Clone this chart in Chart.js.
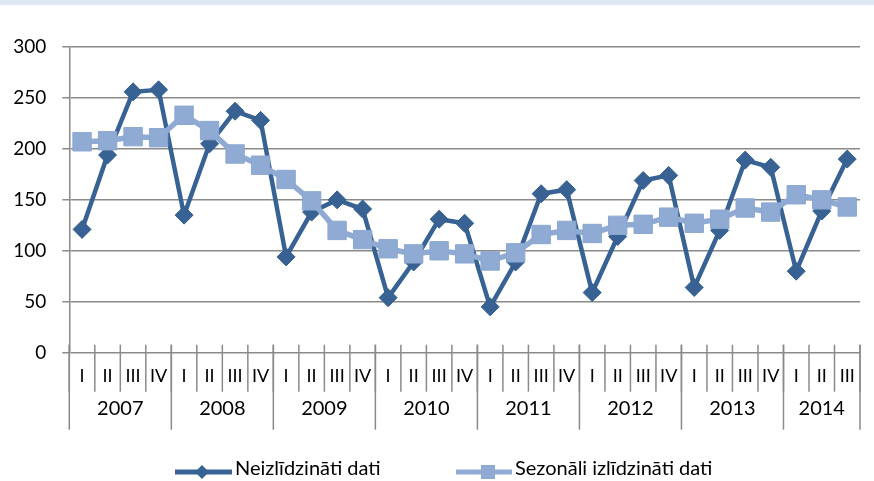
<!DOCTYPE html>
<html>
<head>
<meta charset="utf-8">
<script src="https://cdn.jsdelivr.net/npm/chart.js@4"></script>
<style>
  html, body { margin: 0; padding: 0; background: #fff; }
  #wrap { width: 874px; height: 481px; position: relative; }
</style>
</head>
<body>
<div id="wrap"><canvas id="grafico"></canvas></div>
<script>
// ------------------------------------------------------
// Dados
// ------------------------------------------------------
const anos = ["2007", "2008", "2009", "2010", "2011", "2012", "2013", "2014"];
const trimestresPorAno = [4, 4, 4, 4, 4, 4, 4, 3];
const nomesTrimestres = ["I", "II", "III", "IV"];

const neizlidzinati = [121, 194, 256, 258, 135, 205, 237, 228, 94, 138, 150, 141,
  54, 89, 131, 127, 45, 89, 156, 160, 59, 114, 169, 174, 64, 120, 189, 182, 80, 139, 190];
const sezonali = [207, 208, 212, 211, 233, 218, 195, 184, 170, 149, 120, 111,
  102, 97, 100, 97, 90, 98, 116, 120, 117, 125, 126, 133, 127, 131, 142, 138, 155, 150, 143];

const yTicks = [0, 50, 100, 150, 200, 250, 300];

const nomeSerie1 = "Neizlīdzināti dati";
const nomeSerie2 = "Sezonāli izlīdzināti dati";

const corEscura = "#386293";
const corClara = "#8faad3";
const corGrade = "#8a8a8a";
const fonte = "Lato, 'DejaVu Sans', sans-serif";

// rótulos de categoria (trimestres)
const labels = [];
trimestresPorAno.forEach(n => {
  for (let q = 0; q < n; q++) labels.push(nomesTrimestres[q]);
});

// ------------------------------------------------------
// Plugin: faixa no topo + eixo X em dois níveis + legenda
// ------------------------------------------------------
const eixoDoisNiveis = {
  id: "eixoDoisNiveis",
  beforeDraw(chart) {
    const ctx = chart.ctx;
    ctx.save();
    ctx.fillStyle = "#fff";
    ctx.fillRect(0, 0, chart.width, chart.height);
    ctx.fillStyle = "#dfe7f2";
    ctx.fillRect(0, 0, chart.width, 5);
    ctx.restore();
  },
  afterDraw(chart) {
    const ctx = chart.ctx;
    const x = chart.scales.x;
    const area = chart.chartArea;
    const n = labels.length;
    const w = (area.right - area.left) / n;
    const topo = area.bottom - 8;

    ctx.save();
    ctx.strokeStyle = corGrade;
    ctx.lineWidth = 1.5;

    // separadores de trimestre
    for (let k = 0; k <= n; k++) {
      const px = area.left + k * w;
      ctx.beginPath();
      ctx.moveTo(px, topo);
      ctx.lineTo(px, area.bottom + 39);
      ctx.stroke();
    }

    // separadores de ano
    let k = 0;
    const limites = [0];
    trimestresPorAno.forEach(t => { k += t; limites.push(k); });
    limites.forEach(b => {
      const px = area.left + b * w;
      ctx.beginPath();
      ctx.moveTo(px, topo);
      ctx.lineTo(px, area.bottom + 77);
      ctx.stroke();
    });

    // textos
    ctx.fillStyle = "#000";
    ctx.textAlign = "center";
    ctx.textBaseline = "middle";
    ctx.font = "18px " + fonte;
    labels.forEach((lab, i) => {
      ctx.fillText(lab, x.getPixelForValue(i), area.bottom + 23);
    });

    ctx.font = "20px " + fonte;
    anos.forEach((ano, j) => {
      const a = area.left + limites[j] * w;
      const b = area.left + limites[j + 1] * w;
      ctx.fillText(ano, (a + b) / 2, area.bottom + 56);
    });

    // legenda
    const yLeg = 472;
    ctx.textAlign = "left";
    ctx.font = "20px " + fonte;

    ctx.strokeStyle = corEscura;
    ctx.lineWidth = 5;
    ctx.beginPath();
    ctx.moveTo(175, yLeg);
    ctx.lineTo(232, yLeg);
    ctx.stroke();
    ctx.fillStyle = corEscura;
    ctx.beginPath();
    ctx.moveTo(202, yLeg - 7);
    ctx.lineTo(209, yLeg);
    ctx.lineTo(202, yLeg + 7);
    ctx.lineTo(195, yLeg);
    ctx.closePath();
    ctx.fill();
    ctx.fillStyle = "#000";
    ctx.fillText(nomeSerie1, 235, yLeg - 3);

    ctx.strokeStyle = corClara;
    ctx.lineWidth = 5;
    ctx.beginPath();
    ctx.moveTo(456, yLeg);
    ctx.lineTo(512, yLeg);
    ctx.stroke();
    ctx.fillStyle = corClara;
    ctx.fillRect(481, yLeg - 7, 14, 14);
    ctx.fillStyle = "#000";
    ctx.fillText(nomeSerie2, 515, yLeg - 3);

    ctx.restore();
  }
};

// ------------------------------------------------------
// Gráfico
// ------------------------------------------------------
const grafico = new Chart(document.getElementById("grafico"), {
  type: "line",
  data: {
    labels: labels,
    datasets: [
      {
        label: nomeSerie1,
        data: neizlidzinati,
        borderColor: corEscura,
        backgroundColor: corEscura,
        borderWidth: 4.5,
        pointStyle: "rectRot",
        pointRadius: 9,
        pointBorderWidth: 1,
        pointBorderColor: "#35608f",
        tension: 0,
        order: 2
      },
      {
        label: nomeSerie2,
        data: sezonali,
        borderColor: corClara,
        backgroundColor: corClara,
        borderWidth: 5.5,
        pointStyle: "rect",
        pointRadius: 13,
        pointBorderWidth: 1,
        pointBorderColor: "#8ca7d0",
        tension: 0,
        order: 1
      }
    ]
  },
  options: {
    responsive: true,
    maintainAspectRatio: false,
    animation: false,
    layout: { padding: { top: 47, right: 10.7, bottom: 128.3, left: 0 } },
    plugins: {
      legend: { display: false },
      tooltip: { enabled: false }
    },
    scales: {
      x: {
        type: "category",
        display: false,
        offset: true
      },
      y: {
        min: 0,
        max: 300,
        afterBuildTicks(s) { s.ticks = yTicks.map(v => ({ value: v })); },
        afterFit(s) { s.width = 69.3; },
        ticks: {
          color: "#000",
          padding: 16,
          font: { family: fonte, size: 19 }
        },
        grid: { color: corGrade, lineWidth: 1.5, tickLength: 7 },
        border: { color: corGrade, width: 1.5 }
      }
    }
  },
  plugins: [eixoDoisNiveis]
});
</script>
</body>
</html>
